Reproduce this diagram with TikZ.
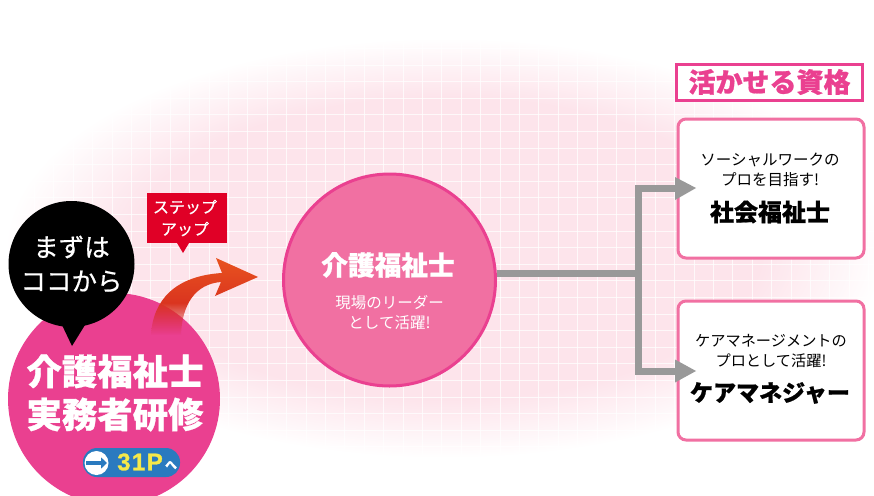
\documentclass[tikz,border=0pt]{standalone}
\usepackage{fontspec}
\setmainfont{Noto Sans CJK JP}
\newfontfamily\jpmed[FakeBold=0.6]{Noto Sans CJK JP}
\newfontfamily\jpheavy[BoldFeatures={FakeBold=0.8}]{Noto Sans CJK JP}
\newfontfamily\latinbold[BoldFeatures={FakeBold=1.2,LetterSpace=6}]{Liberation Sans}
\usetikzlibrary{arrows.meta,fadings,positioning}

\definecolor{hazepink}{HTML}{FDE4EB}
\definecolor{rosedeep}{HTML}{EA4090}
\definecolor{rosemid}{HTML}{F170A2}
\definecolor{flaggred}{HTML}{E00026}
\definecolor{flowgray}{HTML}{999999}
\definecolor{badgeblue}{HTML}{2A7ABF}
\definecolor{badgeyellow}{HTML}{F5E94A}
\definecolor{swoosh}{HTML}{E8531F}
\definecolor{swooshlow}{HTML}{D01F1F}

\pgfdeclareradialshading{haze}{\pgfpoint{0bp}{0bp}}{
  color(0bp)=(hazepink); color(18bp)=(hazepink); color(25bp)=(white); color(50bp)=(white)}

\pgfdeclareverticalshading{tailmask}{100bp}{
  color(0bp)=(black); color(25bp)=(black); color(46bp)=(white); color(100bp)=(white)}
\pgfdeclarefading{tailfade}{\pgfuseshading{tailmask}}

\tikzset{
  plate/.style={draw=rosemid, line width=3pt, rounded corners=8pt, fill=white, minimum width=186pt, minimum height=139pt, inner sep=0pt},
  flow/.style={draw=flowgray, line width=7pt},
  flowhead/.style={fill=flowgray}
}

\begin{document}
\begin{tikzpicture}[x=1pt,y=-1pt]
  \clip (0,0) rectangle (874,495);
  % haze and grid
  \fill[white] (0,0) rectangle (874,495);
  \path[shading=haze] (445,248) ellipse [x radius=440, y radius=210];
  \foreach \gx in {15,34.4,...,874}
    \draw[white, opacity=.75, line width=1pt] (\gx,0) -- (\gx,495);
  \foreach \gy in {15.2,31.8,...,495}
    \draw[white, opacity=.75, line width=1pt] (0,\gy) -- (874,\gy);

  \coordinate (branch) at (638,273);
  \coordinate (shakaitip) at (696,188);
  \coordinate (keatip) at (696,371);
  \coordinate (shakaibase) at (676,188);
  \coordinate (keabase) at (676,371);

  \node [plate] (shakai) at (771,188.5) {};
  \node [plate] (kea) at (771,370.5) {};
  \node [circle, draw=rosedeep, fill=rosemid, line width=3pt, minimum size=212pt, inner sep=0pt] (fukushi) at (389.5,280) {};

  \draw[flow] (branch -| fukushi.east) -- (branch);
  \draw[flow] (shakaibase) -| (branch);
  \draw[flow] (keabase) -| (branch);
  \fill[flowhead] (shakaitip) -- (675,177) -- (675,200) -- cycle;
  \fill[flowhead] (keatip) -- (675,359.5) -- (675,382.5) -- cycle;

  \node [text=white, font=\jpheavy\bfseries\fontsize{26.7}{26}\selectfont] (fukushititle) at (388,265) {介護福祉士};
  \node [text=white, align=center, font=\fontsize{15.5}{20}\selectfont] (fukushinote) at (389.5,313) {現場のリーダー\\として活躍!};

  \node [align=center, font=\fontsize{15.5}{20}\selectfont, inner sep=0pt] (shakainote) at (770,170) {ソーシャルワークの\\プロを目指す!};
  \node [font=\jpheavy\bfseries\fontsize{24}{24}\selectfont, inner sep=0pt] (shakaititle) at (770,212) {社会福祉士};
  \node [align=center, font=\fontsize{15.2}{20}\selectfont, inner sep=0pt] (keanote) at (771,351) {ケアマネージメントの\\プロとして活躍!};
  \node [font=\jpheavy\bfseries\fontsize{23}{23}\selectfont, inner sep=0pt] (keatitle) at (770,393) {ケアマネジャー};

  \node [draw=rosedeep, fill=white, line width=3pt, minimum width=186pt, minimum height=36pt, text=rosedeep, font=\jpheavy\bfseries\fontsize{27}{27}\selectfont, inner sep=0pt] (shikaku) at (769.5,82) {活かせる資格};

  \node [circle, fill=rosedeep, minimum size=212pt, inner sep=0pt] (jitsumu) at (114,399) {};

  \shade[top color=swoosh, middle color=swoosh, bottom color=swooshlow, path fading=tailfade]
    (151,335) .. controls (153,300) and (175,276) .. (222,273) -- (216,258) -- (258,277) -- (215,296) -- (221,282)
    .. controls (195,284) and (182,305) .. (181,335) -- cycle;

  \fill[black] (62,325) -- (72,346) -- (85,325) -- cycle;
  \node [circle, fill=black, minimum size=126pt, text=white, align=center, inner sep=0pt, font=\jpmed\fontsize{25.5}{34}\selectfont] (hajime) at (71.5,264) {まずは\\ココから};

  \node [text=white, align=center, inner sep=0pt, font=\jpheavy\bfseries\fontsize{35.4}{43}\selectfont] (jitsumutitle) at (115,393) {介護福祉士\\実務者研修};

  \fill[flaggred] (177,243) -- (183,253) -- (189,243) -- cycle;
  \node [fill=flaggred, minimum width=80pt, minimum height=50pt, inner sep=0pt] (stepup) at (187,218) {};
  \node [text=white, align=center, inner sep=0pt, font=\jpmed\fontsize{16}{22}\selectfont] (stepuptext) at (185,218) {ステップ\\アップ};

  \node [fill=badgeblue, rounded corners=14pt, minimum width=97pt, minimum height=29pt, inner sep=0pt] (badge) at (131.5,462.5) {};
  \node [circle, fill=white, minimum size=24pt, inner sep=0pt] (badgeicon) at (96.5,463) {};
  \draw[badgeblue, line width=3.5pt, -{Triangle[length=6pt,width=11pt]}] (86,463) -- (107,463);
  \node [text=badgeyellow, inner sep=0pt, font=\latinbold\bfseries\fontsize{24}{24}\selectfont] (badgepage) at (140,462) {31P};
  \node [text=white, inner sep=0pt, font=\jpheavy\bfseries\fontsize{12}{12}\selectfont] (badgeto) at (171,465) {へ};
\end{tikzpicture}
\end{document}
